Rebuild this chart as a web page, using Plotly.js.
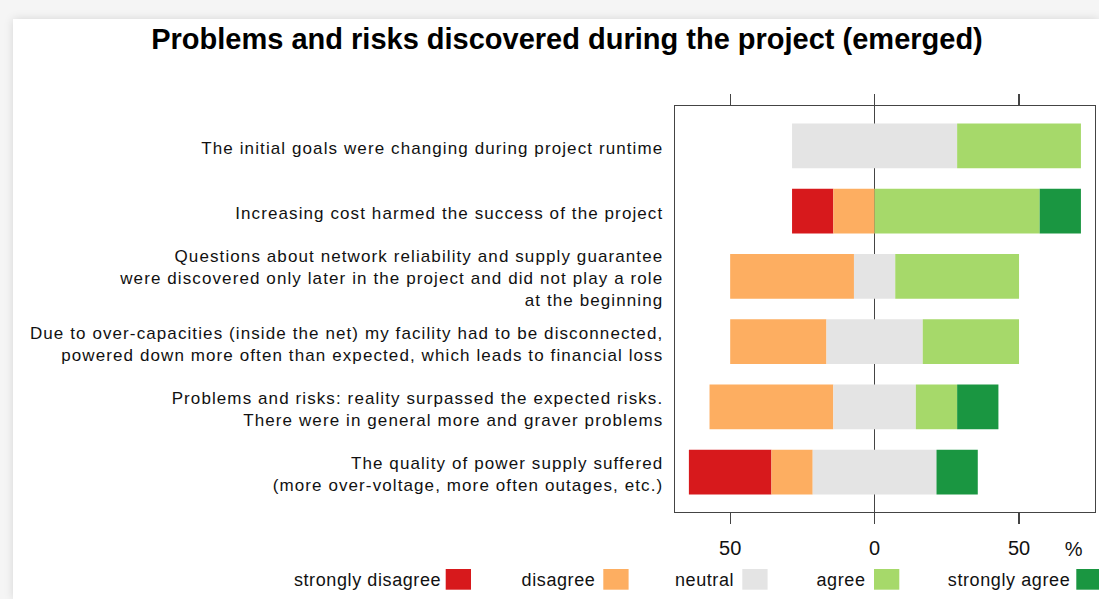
<!DOCTYPE html>
<html>
<head>
<meta charset="utf-8">
<script src="https://cdn.plot.ly/plotly-3.0.1.min.js"></script>
<style>
  html, body { margin: 0; padding: 0; width: 1099px; height: 599px; overflow: hidden; background: #f5f5f5; }
  #card { position: absolute; left: 13px; top: 19px; width: 1086px; height: 580px; background: #fff; box-shadow: 0 0 9px rgba(0,0,0,0.13); }
  #chart { width: 1086px; height: 580px; }
  #chart .ytick text { letter-spacing: 1.1px; }
  #chart .annotation-text { letter-spacing: 0.6px; }
</style>
</head>
<body>
<div id="card"><div id="chart"></div></div>
<script>
// ---- data (percent of respondents) ----
const categories = [
  "The initial goals were changing during project runtime",
  "Increasing cost harmed the success of the project",
  "Questions about network reliability and supply guarantee<br>were discovered only later in the project and did not play a role<br>at the beginning",
  "Due to over-capacities (inside the net) my facility had to be disconnected,<br>powered down more often than expected, which leads to financial loss",
  "Problems and risks: reality surpassed the expected risks.<br>There were in general more and graver problems",
  "The quality of power supply suffered<br>(more over-voltage, more often outages, etc.)"
];
const stronglyDisagree = [0, 14.29, 0, 0, 0, 28.57];
const disagree         = [0, 14.29, 42.86, 33.33, 42.86, 14.29];
const neutral          = [57.14, 0, 14.29, 33.33, 28.57, 42.86];
const agree            = [42.86, 57.14, 42.86, 33.33, 14.29, 0];
const stronglyAgree    = [0, 14.29, 0, 0, 14.29, 14.29];

const levelNames  = ["strongly disagree", "disagree", "neutral", "agree", "strongly agree"];
const levelColors = ["#D7191C", "#FDAE61", "#E4E4E4", "#A6D96A", "#1A9641"];

const xTickVals = [-50, 0, 50];
const xTickText = ["50", "0", "50"];
const titleText = "Problems and risks discovered during the project (emerged)";
const unitLabel = "%";

// ---- layout constants ----
const W = 1086, H = 580;
const M = { l: 662, r: 4, t: 87, b: 87 };
const plotW = W - M.l - M.r, plotH = H - M.t - M.b;
const px2x = p => (p - M.l) / plotW;
const py2y = p => 1 - (p - M.t) / plotH;

const FONT = "Liberation Sans, Arial, sans-serif";

// ---- diverging stack: neutral centered on 0 ----
const half = neutral.map(v => v / 2);
const series = [
  { x: stronglyDisagree, base: half.map((h, i) => -h - disagree[i] - stronglyDisagree[i]) },
  { x: disagree,         base: half.map((h, i) => -h - disagree[i]) },
  { x: neutral,          base: half.map(h => -h) },
  { x: agree,            base: half.map(h => h) },
  { x: stronglyAgree,    base: half.map((h, i) => h + agree[i]) }
];

const traces = series.map((s, k) => ({
  type: "bar",
  orientation: "h",
  y: categories,
  x: s.x,
  base: s.base,
  width: 0.687,
  name: levelNames[k],
  marker: { color: levelColors[k], line: { width: 0 } },
  hoverinfo: "skip",
  showlegend: false
}));

// ---- manual legend (text left of swatch) ----
const swatchLeft = [432.7, 590.3, 729.3, 861, 1063.3];
const swW = 25.3, swTop = 550, swBot = 570.7;
const shapes = [], annotations = [];
levelNames.forEach((n, k) => {
  shapes.push({
    type: "rect", xref: "paper", yref: "paper",
    x0: px2x(swatchLeft[k]), x1: px2x(swatchLeft[k] + swW),
    y0: py2y(swBot), y1: py2y(swTop),
    fillcolor: levelColors[k], line: { width: 0 }
  });
  annotations.push({
    xref: "paper", yref: "paper", x: px2x(swatchLeft[k] - 8), y: py2y(561),
    xanchor: "right", yanchor: "middle", showarrow: false, text: n,
    font: { family: FONT, size: 18, color: "#111" }
  });
});
annotations.push({
  xref: "paper", yref: "paper", x: px2x(1060.5), y: py2y(529.5),
  xanchor: "center", yanchor: "middle", showarrow: false, text: unitLabel,
  font: { family: FONT, size: 20, color: "#111" }
});

const layout = {
  width: W, height: H,
  margin: M,
  paper_bgcolor: "#fff", plot_bgcolor: "#fff",
  barmode: "overlay",
  showlegend: false,
  title: {
    text: titleText,
    xref: "container", yref: "container",
    x: 554 / W, xanchor: "center",
    y: 1 - 20 / H, yanchor: "middle",
    font: { family: FONT, size: 29, color: "#000", weight: "bold" }
  },
  xaxis: {
    range: [-69.1, 76.3],
    tickvals: xTickVals, ticktext: xTickText,
    ticks: "outside", ticklen: 11, tickwidth: 1.3, tickcolor: "#444",
    showline: true, linecolor: "#444", linewidth: 1.3, mirror: "ticks",
    showgrid: false,
    zeroline: true, zerolinecolor: "#444", zerolinewidth: 1.5,
    ticklabelstandoff: 7,
    tickfont: { family: FONT, size: 20, color: "#111" },
    fixedrange: true
  },
  yaxis: {
    type: "category",
    categoryorder: "array", categoryarray: categories,
    range: [5.61, -0.61],
    showline: true, linecolor: "#444", linewidth: 1.3, mirror: true,
    ticks: "", showgrid: false, zeroline: false,
    automargin: false,
    ticklabelstandoff: 7,
    ticklabelshift: -2,
    tickfont: { family: FONT, size: 17, color: "#111" },
    fixedrange: true
  },
  shapes: shapes,
  annotations: annotations
};

Plotly.newPlot("chart", traces, layout, { displayModeBar: false, staticPlot: true });
</script>
</body>
</html>
